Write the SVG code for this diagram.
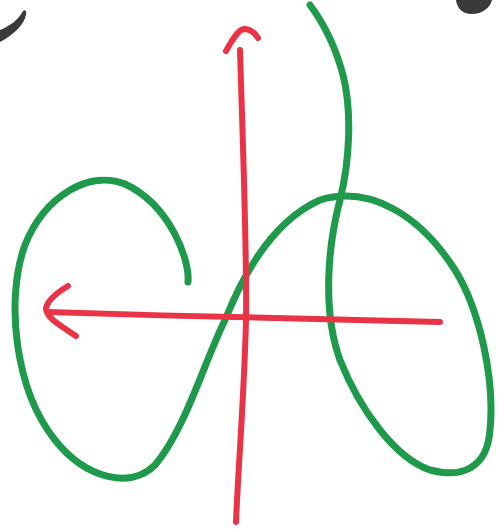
<svg xmlns="http://www.w3.org/2000/svg" width="497" height="531" viewBox="0 0 497 531">
<style>
.g{fill:none;stroke:#1f9a4c;stroke-width:7;stroke-linecap:round;stroke-linejoin:round}
.r{fill:none;stroke:#e93346;stroke-width:6;stroke-linecap:round;stroke-linejoin:round}
.k{fill:#3a3a3a;stroke:none}
</style>
<rect width="497" height="531" fill="#ffffff"/>
<g id="marks">
<path class="k" d="M0,30 C10,26 18,20 23,11 C25,9 27,11 26,15 C24,24 15,34 0,42 Z"/>
<path class="k" d="M456,0 L492,0 C490,8 482,14 472,14 C462,14 457,8 456,0 Z"/>
</g>
<g id="curve">
<path class="g" d="M188,282 C190,260 170,205 125,184 C90,170 45,195 25,245 C5,300 15,390 55,440 C85,478 130,490 155,465 C185,430 205,360 225,320 C245,270 275,220 320,200 C370,185 420,215 455,270 C480,310 495,380 490,430 C487,470 460,478 430,470 C395,458 360,410 340,360 C322,310 328,245 340,200 C350,160 352,110 343,75 C335,45 325,25 310,5"/>
</g>
<g id="axes">
<path class="r" d="M240,50 C243,150 247,250 246,320 C244,400 238,470 236,522"/>
<path class="r" d="M226,51 C232,40 238,30 244,29 C250,29 255,33 258,38"/>
<path class="r" d="M48,312 C180,316 320,320 440,322"/>
<path class="r" d="M68,286 C58,292 48,300 46,308 C46,318 60,325 76,336"/>
</g>
</svg>
